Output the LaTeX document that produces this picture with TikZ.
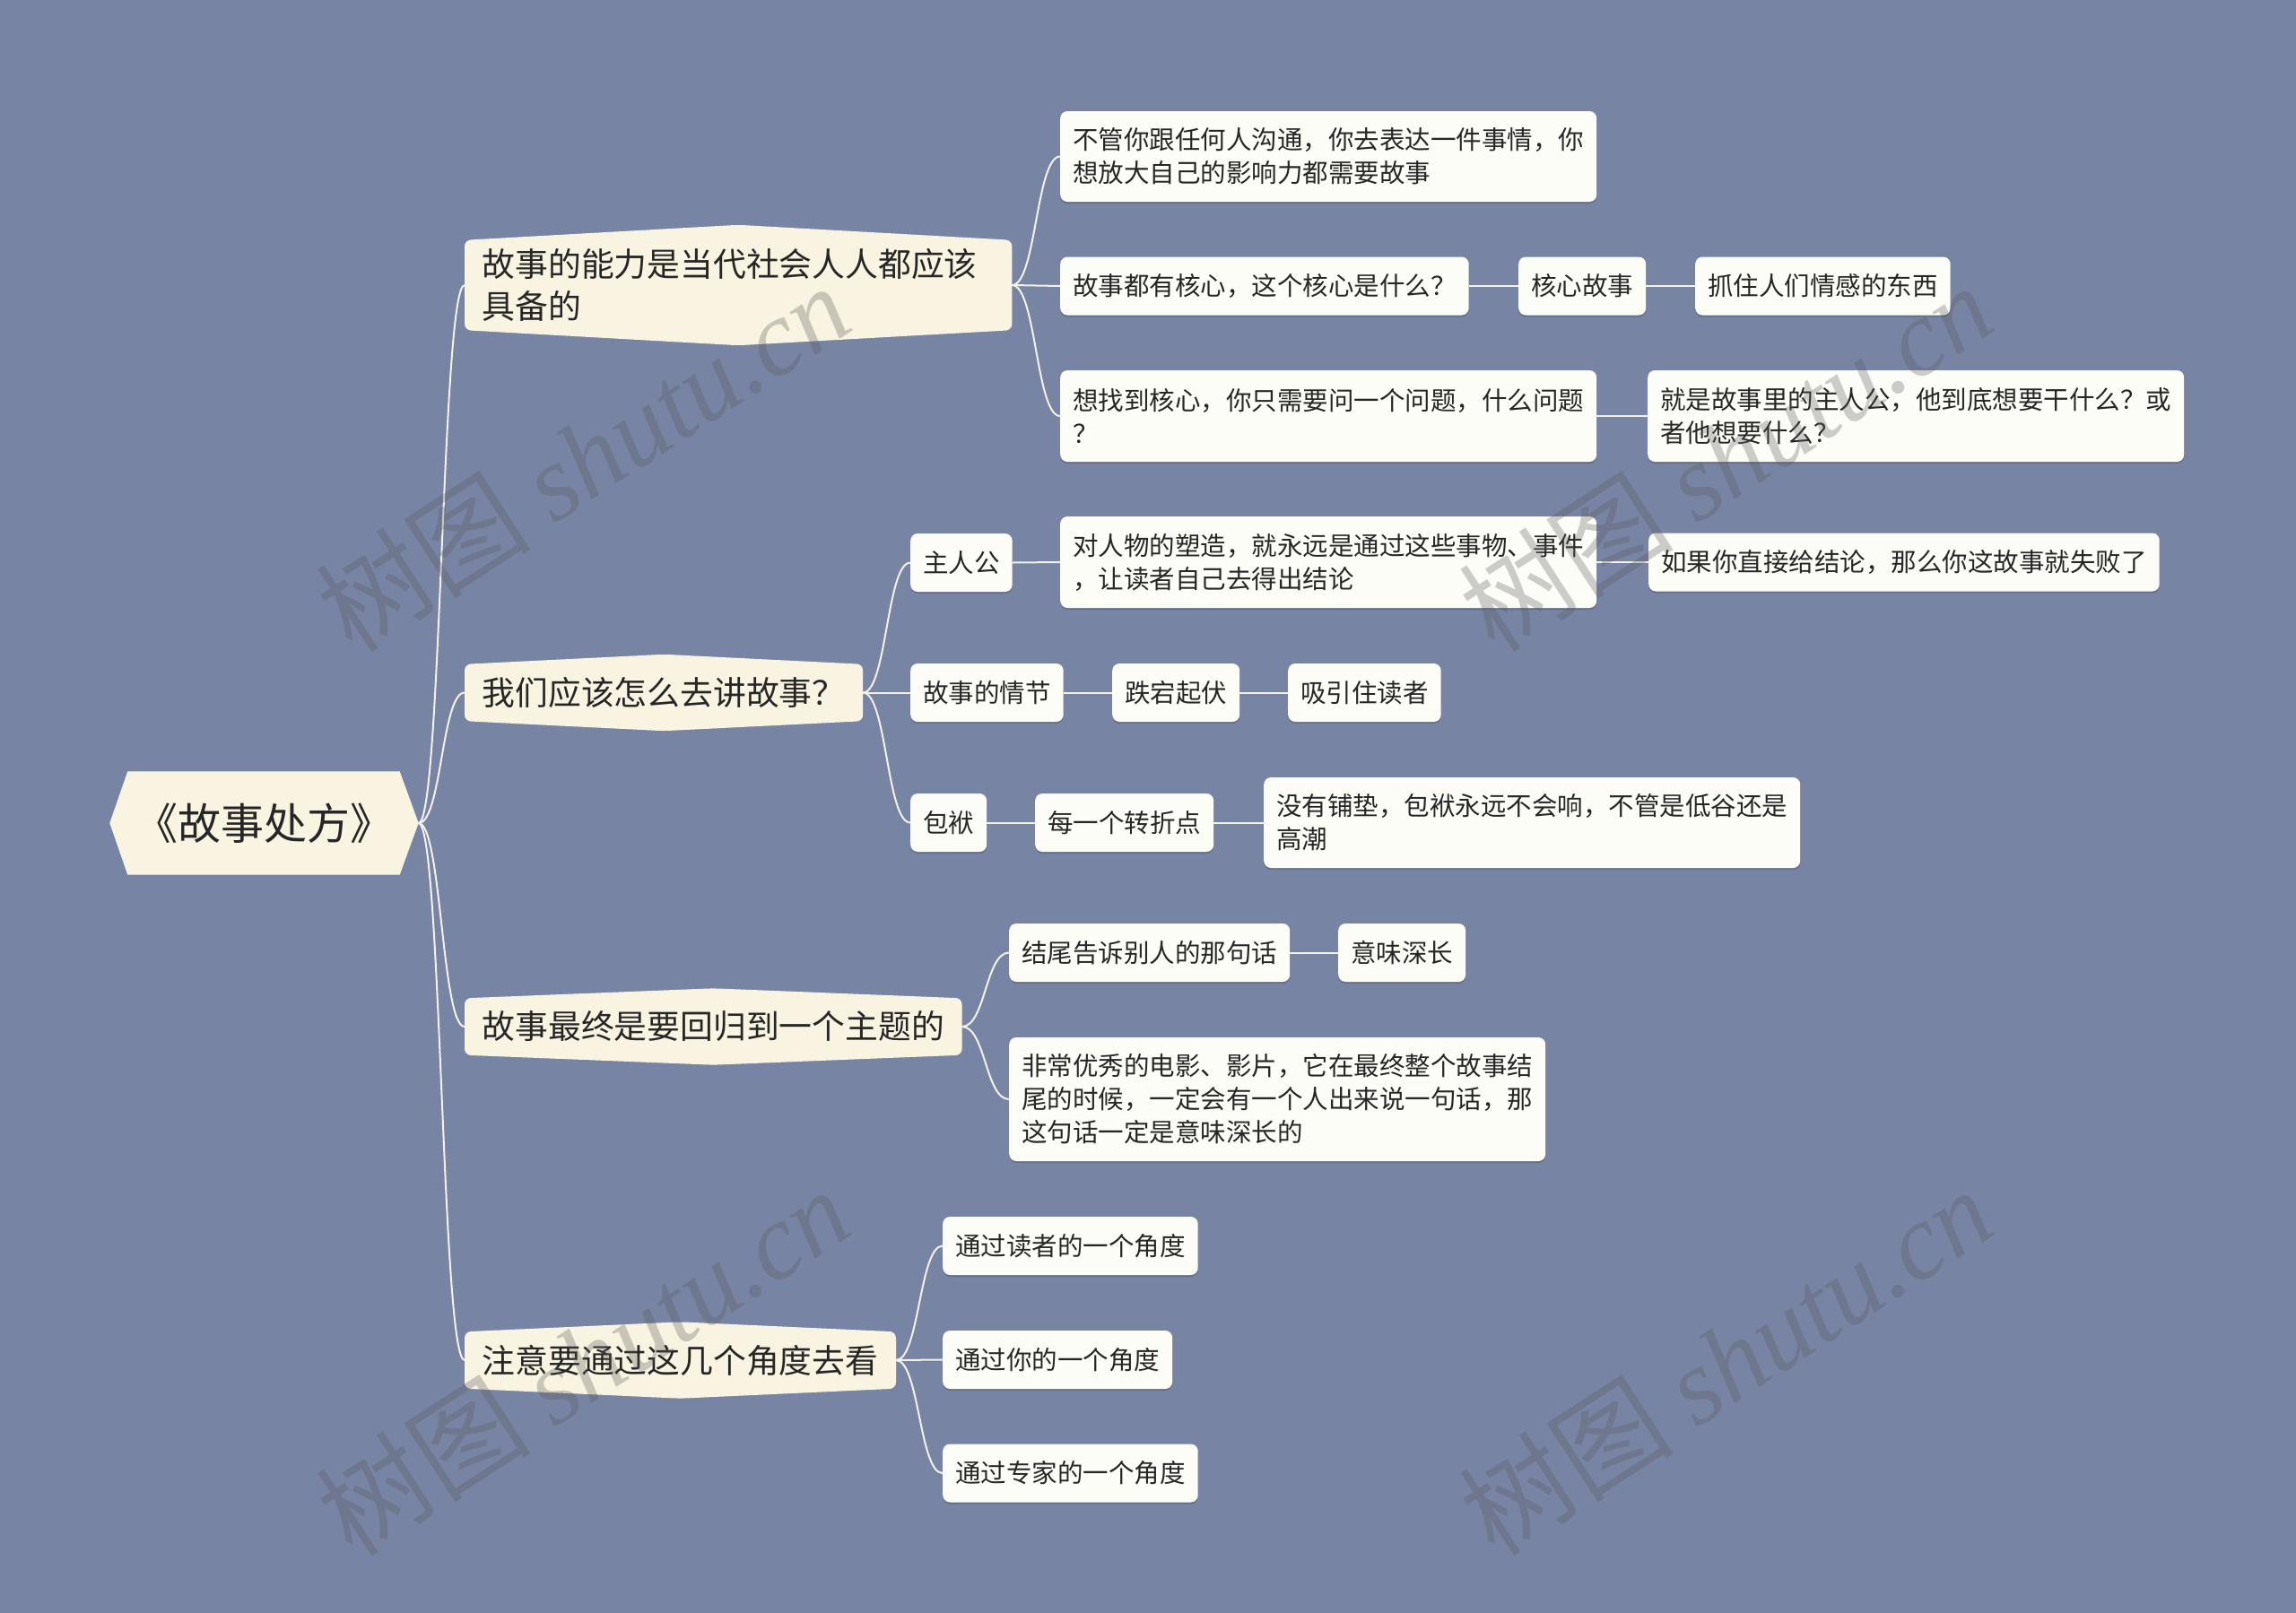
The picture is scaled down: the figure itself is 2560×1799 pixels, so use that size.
\documentclass[tikz,border=0pt]{standalone}
\usepackage{fontspec}
\setmainfont{Noto Sans CJK SC}
\newfontfamily\wmcjk{Noto Sans CJK SC}
\newfontfamily\wmlat{Liberation Serif}
\usetikzlibrary{calc,backgrounds,shadows}
\definecolor{bgc}{HTML}{7884A4}
\definecolor{creamc}{HTML}{F8F4E1}
\definecolor{leafc}{HTML}{FDFDF7}
\definecolor{txtc}{HTML}{262626}
\definecolor{linec}{HTML}{F4F2E8}
\definecolor{wmc}{HTML}{5A5A5A}
\newcommand\mmlink[2]{\draw[conn] let \p1=(#1.east), \p2=(#2.west), \n1={(\x2-\x1)*0.5} in (\p1) .. controls +(\n1,0) and +(-\n1,0) .. (\p2);}
\newcommand\lvlshape[2]{\fill[creamc, rounded corners=7pt] (#1.north west) -- ([yshift=#2pt]#1.north) -- (#1.north east) -- (#1.south east) -- ([yshift=-#2pt]#1.south) -- (#1.south west) -- cycle;}
\begin{document}
\begin{tikzpicture}[x=1pt,y=-1pt,
  rootnode/.style={minimum width=344pt, minimum height=115pt, inner sep=0pt, text=txtc, font=\fontsize{48}{56}\selectfont},
  lvl/.style={anchor=west, inner xsep=19.5pt, inner ysep=0pt, minimum height=63pt, text=txtc, align=left, font=\fontsize{36.8}{47}\selectfont},
  leaf/.style={anchor=west, fill=leafc, rounded corners=8pt, inner xsep=14pt, inner ysep=0pt, minimum height=65pt, text=txtc, align=left, font=\fontsize{28.5}{37}\selectfont, drop shadow={shadow xshift=0pt, shadow yshift=-2pt, fill=black, opacity=0.15}},
  conn/.style={draw=linec, line width=2pt},
  wm/.style={text=wmc, opacity=0.3, rotate=33, inner sep=0pt}]
\useasboundingbox (0,0) rectangle (2560,1799);
\begin{pgfonlayer}{background}
\fill[bgc] (0,0) rectangle (2560,1799);
\end{pgfonlayer}

% root and main branches
\node[rootnode] (root) at (294.5,918) {《故事处方》};
\node[lvl, text width=571pt, minimum height=100pt] (n1) at (518,318) {故事的能力是当代社会人人都应该\\具备的};
\node[lvl] (n2) at (518,772.5) {我们应该怎么去讲故事？};
\node[lvl] (n3) at (518,1145) {故事最终是要回归到一个主题的};
\node[lvl] (n4) at (518,1517) {注意要通过这几个角度去看};

\begin{pgfonlayer}{background}
\fill[creamc] ([xshift=20pt]root.north west) -- ([xshift=-21pt]root.north east) -- (root.east) -- ([xshift=-21pt]root.south east) -- ([xshift=20pt]root.south west) -- (root.west) -- cycle;
\lvlshape{n1}{17}
\lvlshape{n2}{11}
\lvlshape{n3}{11}
\lvlshape{n4}{11}
\end{pgfonlayer}

% branch 1
\node[leaf, minimum height=101pt] (a1) at (1182,174.5) {不管你跟任何人沟通，你去表达一件事情，你\\想放大自己的影响力都需要故事};
\node[leaf] (a2) at (1182,319) {故事都有核心，这个核心是什么？};
\node[leaf] (a2b) at (1693,319) {核心故事};
\node[leaf] (a2c) at (1890,319) {抓住人们情感的东西};
\node[leaf, minimum height=102pt] (a3) at (1182,464) {想找到核心，你只需要问一个问题，什么问题\\？};
\node[leaf, minimum height=102pt] (a3b) at (1837,464) {就是故事里的主人公，他到底想要干什么？或\\者他想要什么？};
% branch 2
\node[leaf] (b1) at (1015,627.5) {主人公};
\node[leaf, minimum height=102pt] (b1b) at (1182,627) {对人物的塑造，就永远是通过这些事物、事件\\，让读者自己去得出结论};
\node[leaf] (b1c) at (1838,627) {如果你直接给结论，那么你这故事就失败了};
\node[leaf] (b2) at (1015,772.5) {故事的情节};
\node[leaf] (b2b) at (1240,772.5) {跌宕起伏};
\node[leaf] (b2c) at (1436,772.5) {吸引住读者};
\node[leaf] (b3) at (1015,917.5) {包袱};
\node[leaf] (b3b) at (1154,917.5) {每一个转折点};
\node[leaf, minimum height=101pt] (b3c) at (1409,917.5) {没有铺垫，包袱永远不会响，不管是低谷还是\\高潮};
% branch 3
\node[leaf] (c1) at (1125,1062.5) {结尾告诉别人的那句话};
\node[leaf] (c1b) at (1492,1062.5) {意味深长};
\node[leaf, minimum height=138pt] (c2) at (1125,1226) {非常优秀的电影、影片，它在最终整个故事结\\尾的时候，一定会有一个人出来说一句话，那\\这句话一定是意味深长的};
% branch 4
\node[leaf] (d1) at (1051,1389.5) {通过读者的一个角度};
\node[leaf] (d2) at (1051,1516.5) {通过你的一个角度};
\node[leaf] (d3) at (1051,1643) {通过专家的一个角度};

% connectors
\mmlink{root}{n1}
\mmlink{root}{n2}
\mmlink{root}{n3}
\mmlink{root}{n4}
\mmlink{n1}{a1}
\mmlink{n1}{a2}
\mmlink{n1}{a3}
\mmlink{a2}{a2b}
\mmlink{a2b}{a2c}
\mmlink{a3}{a3b}
\mmlink{n2}{b1}
\mmlink{n2}{b2}
\mmlink{n2}{b3}
\mmlink{b1}{b1b}
\mmlink{b1b}{b1c}
\mmlink{b2}{b2b}
\mmlink{b2b}{b2c}
\mmlink{b3}{b3b}
\mmlink{b3b}{b3c}
\mmlink{n3}{c1}
\mmlink{n3}{c2}
\mmlink{c1}{c1b}
\mmlink{n4}{d1}
\mmlink{n4}{d2}
\mmlink{n4}{d3}

% watermarks
\node[wm] (wm1) at (650,510) {\fontsize{120}{125}\selectfont\wmcjk 树图\ \wmlat\itshape shutu.cn};
\node[wm] (wm2) at (1924,510) {\fontsize{120}{125}\selectfont\wmcjk 树图\ \wmlat\itshape shutu.cn};
\node[wm] (wm3) at (650,1518) {\fontsize{120}{125}\selectfont\wmcjk 树图\ \wmlat\itshape shutu.cn};
\node[wm] (wm4) at (1924,1518) {\fontsize{120}{125}\selectfont\wmcjk 树图\ \wmlat\itshape shutu.cn};
\end{tikzpicture}
\end{document}
